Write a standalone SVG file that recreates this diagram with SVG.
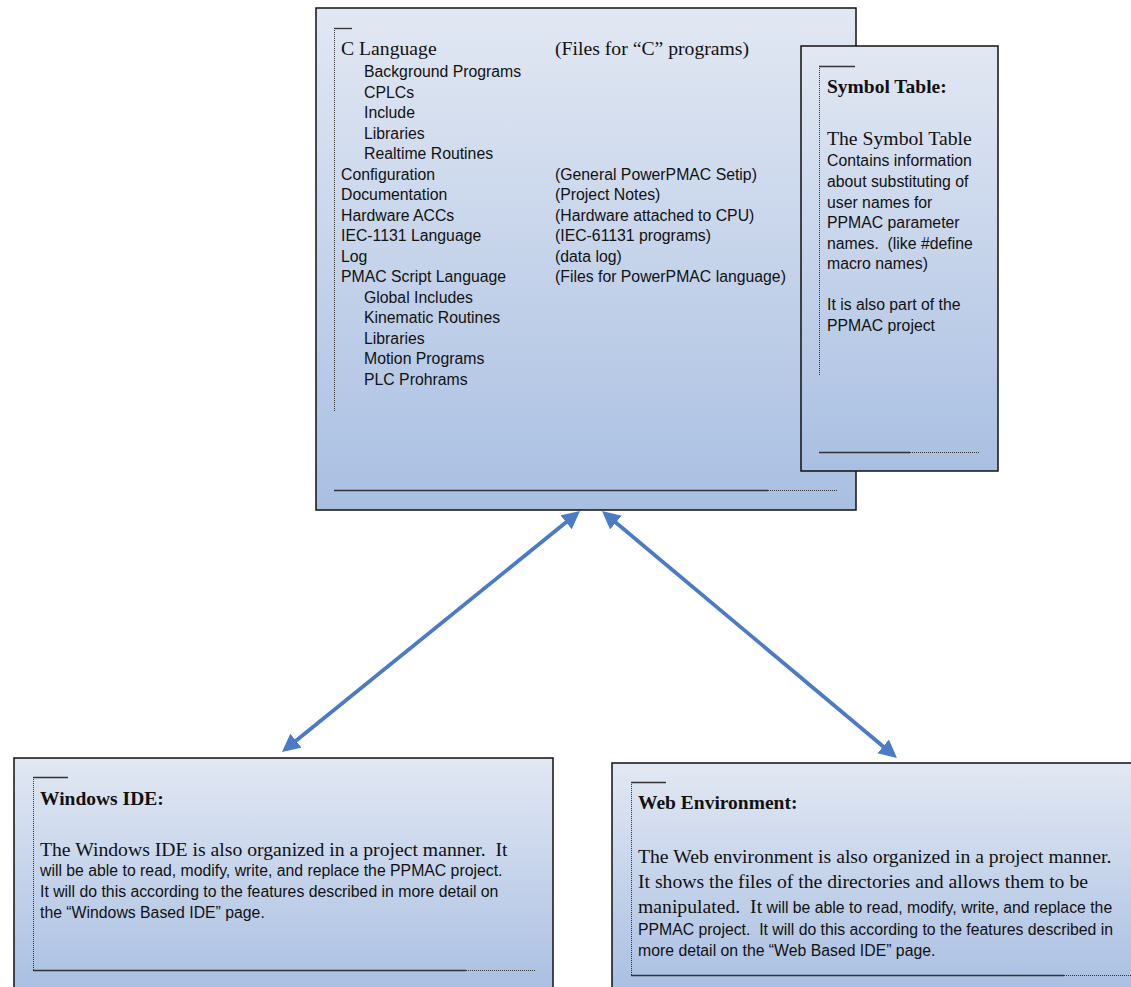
<svg xmlns="http://www.w3.org/2000/svg" width="1131" height="987" viewBox="0 0 1131 987">
<style>
.box{stroke:#111;stroke-width:1.5;fill:url(#g)}
.serif{font-family:"Liberation Serif","Times New Roman",serif;font-size:19.7px;fill:#111}
.bold{font-family:"Liberation Serif","Times New Roman",serif;font-size:19.5px;font-weight:bold;fill:#111}
.sans{font-family:"Liberation Sans",Arial,sans-serif;font-size:15.8px;fill:#111}
.dot{stroke:#333;stroke-width:1;stroke-dasharray:1,1;fill:none}
.sol{stroke:#333;stroke-width:1.3;fill:none}
.conn{stroke:#4a7bc4;stroke-width:3.8;fill:none;marker-start:url(#ah);marker-end:url(#ah)}
</style>
<defs>
<linearGradient id="g" x1="0" y1="0" x2="0" y2="1">
<stop offset="0" stop-color="#e2e8f3"/>
<stop offset="1" stop-color="#a9bfe2"/>
</linearGradient>
<marker id="ah" markerUnits="userSpaceOnUse" markerWidth="20" markerHeight="20" refX="2" refY="9" orient="auto-start-reverse">
<path d="M0,0 L18,9 L0,18 z" fill="#4a7bc4"/>
</marker>
</defs>
<rect width="1131" height="987" fill="#fff"/>

<g id="connectors">
<line class="conn" x1="567.6" y1="521.1" x2="294.4" y2="741.9"/>
<line class="conn" x1="614.3" y1="521.3" x2="884.7" y2="747.7"/>
</g>

<g id="project">
<rect class="box" x="316" y="8" width="540" height="502"/>
<path class="dot" d="M334.5,28 V412"/>
<path class="sol" d="M334,28.5 H352"/>
<path class="sol" d="M334,490.5 H768"/>
<path class="dot" d="M768,490.5 H838"/>
<text class="serif" x="341" y="55">C Language</text>
<text class="serif" x="555" y="55">(Files for “C” programs)</text>
<g class="sans">
<text x="364" y="77">Background Programs</text>
<text x="364" y="97.5">CPLCs</text>
<text x="364" y="118">Include</text>
<text x="364" y="138.5">Libraries</text>
<text x="364" y="159">Realtime Routines</text>
<text x="341" y="179.5">Configuration</text>
<text x="555" y="179.5">(General PowerPMAC Setip)</text>
<text x="341" y="200">Documentation</text>
<text x="555" y="200">(Project Notes)</text>
<text x="341" y="220.5">Hardware ACCs</text>
<text x="555" y="220.5">(Hardware attached to CPU)</text>
<text x="341" y="241">IEC-1131 Language</text>
<text x="555" y="241">(IEC-61131 programs)</text>
<text x="341" y="261.5">Log</text>
<text x="555" y="261.5">(data log)</text>
<text x="341" y="282">PMAC Script Language</text>
<text x="555" y="282">(Files for PowerPMAC language)</text>
<text x="364" y="302.5">Global Includes</text>
<text x="364" y="323">Kinematic Routines</text>
<text x="364" y="343.5">Libraries</text>
<text x="364" y="364">Motion Programs</text>
<text x="364" y="384.5">PLC Prohrams</text>
</g>
</g>

<g id="symbol-table">
<rect class="box" x="801" y="46" width="197" height="425"/>
<path class="dot" d="M819.5,66 V376"/>
<path class="sol" d="M819,66.5 H855"/>
<path class="sol" d="M819,452.5 H910"/>
<path class="dot" d="M910,452.5 H980"/>
<text class="bold" x="827" y="93">Symbol Table:</text>
<text class="serif" x="827" y="145">The Symbol Table</text>
<g class="sans">
<text x="827" y="166">Contains information</text>
<text x="827" y="187">about substituting of</text>
<text x="827" y="207.5">user names for</text>
<text x="827" y="228">PPMAC parameter</text>
<text x="827" y="248.5" xml:space="preserve">names.  (like #define</text>
<text x="827" y="269">macro names)</text>
<text x="827" y="310">It is also part of the</text>
<text x="827" y="331">PPMAC project</text>
</g>
</g>

<g id="windows-ide">
<rect class="box" x="14" y="758" width="539" height="235"/>
<path class="dot" d="M33.5,777 V970"/>
<path class="sol" d="M33,777.5 H68"/>
<path class="sol" d="M33,970.5 H466"/>
<path class="dot" d="M466,970.5 H536"/>
<text class="bold" x="40" y="805">Windows IDE:</text>
<text class="serif" x="40" y="856" xml:space="preserve">The Windows IDE is also organized in a project manner.  It</text>
<text class="sans" x="40" y="876">will be able to read, modify, write, and replace the PPMAC project.</text>
<text class="sans" x="40" y="897">It will do this according to the features described in more detail on</text>
<text class="sans" x="40" y="918">the “Windows Based IDE” page.</text>
</g>

<g id="web-environment">
<rect class="box" x="612" y="763" width="530" height="230"/>
<path class="dot" d="M631.5,782 V975"/>
<path class="sol" d="M631,782.5 H666"/>
<path class="sol" d="M631,975.5 H1064"/>
<path class="dot" d="M1064,975.5 H1131"/>
<text class="bold" x="638" y="809">Web Environment:</text>
<text class="serif" x="638" y="863">The Web environment is also organized in a project manner.</text>
<text class="serif" x="638" y="888">It shows the files of the directories and allows them to be</text>
<text class="serif" x="638" y="913" xml:space="preserve">manipulated.  It<tspan class="sans"> will be able to read, modify, write, and replace the</tspan></text>
<text class="sans" x="638" y="935" xml:space="preserve">PPMAC project.  It will do this according to the features described in</text>
<text class="sans" x="638" y="956">more detail on the “Web Based IDE” page.</text>
</g>
</svg>
